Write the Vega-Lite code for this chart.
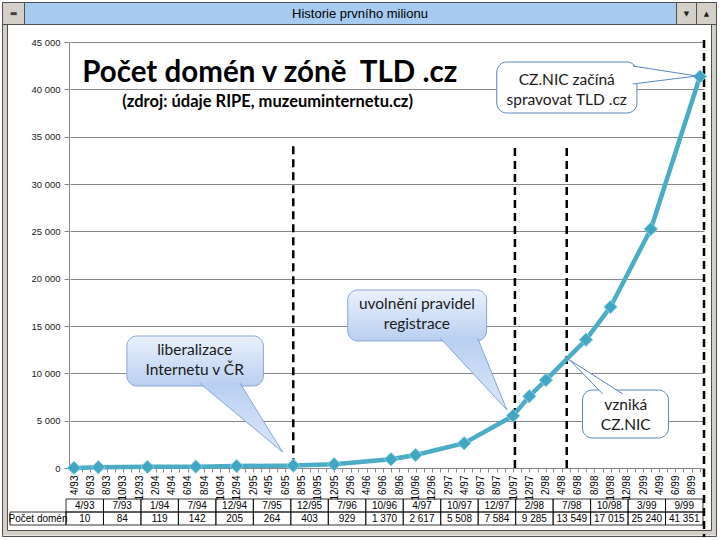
{
  "$schema": "https://vega.github.io/schema/vega-lite/v6.json",
  "width": 720,
  "height": 540,
  "autosize": {"type": "none"},
  "padding": 0,
  "background": "white",
  "config": {
    "view": {"stroke": null, "fill": "white"},
    "font": "Liberation Sans",
    "locale": {"number": {"decimal": ",", "thousands": " ", "grouping": [3], "currency": ["", ""]}}
  },
  "datasets": {
    "domains": [
      {"date": "1993-04-01", "label": "4/93", "count": 10},
      {"date": "1993-07-01", "label": "7/93", "count": 84},
      {"date": "1994-01-01", "label": "1/94", "count": 119},
      {"date": "1994-07-01", "label": "7/94", "count": 142},
      {"date": "1994-12-01", "label": "12/94", "count": 205},
      {"date": "1995-07-01", "label": "7/95", "count": 264},
      {"date": "1995-12-01", "label": "12/95", "count": 403},
      {"date": "1996-07-01", "label": "7/96", "count": 929},
      {"date": "1996-10-01", "label": "10/96", "count": 1370},
      {"date": "1997-04-01", "label": "4/97", "count": 2617},
      {"date": "1997-10-01", "label": "10/97", "count": 5508},
      {"date": "1997-12-01", "label": "12/97", "count": 7584},
      {"date": "1998-02-01", "label": "2/98", "count": 9285},
      {"date": "1998-07-01", "label": "7/98", "count": 13549},
      {"date": "1998-10-01", "label": "10/98", "count": 17015},
      {"date": "1999-03-01", "label": "3/99", "count": 25240},
      {"date": "1999-09-01", "label": "9/99", "count": 41351}
    ],
    "events": [
      {"date": "1995-07-01", "top": 34000, "bottom": 0},
      {"date": "1997-10-08", "top": 33800, "bottom": 0},
      {"date": "1998-04-20", "top": 33800, "bottom": 0},
      {"date": "1999-09-16", "top": 45200, "bottom": -7300}
    ],
    "blueBoxes": [
      {"id": "lib", "x1": "1993-10-16", "x2": "1995-03-11", "y1": 13944, "y2": 8662},
      {"id": "reg", "x1": "1996-01-21", "x2": "1997-06-24", "y1": 18803, "y2": 13416}
    ],
    "whiteBoxes": [
      {"id": "tld", "x1": "1997-08-01", "x2": "1999-01-08", "y1": 42887, "y2": 37500},
      {"id": "nic", "x1": "1998-06-18", "x2": "1999-05-06", "y1": 8239, "y2": 3169}
    ],
    "blueTails": [
      {"id": "lib", "o": 1, "date": "1994-07-15", "v": 8979},
      {"id": "lib", "o": 2, "date": "1995-05-22", "v": 1690},
      {"id": "lib", "o": 3, "date": "1994-12-13", "v": 8979},
      {"id": "reg", "o": 1, "date": "1997-01-01", "v": 13732},
      {"id": "reg", "o": 2, "date": "1997-09-08", "v": 6127},
      {"id": "reg", "o": 3, "date": "1997-05-21", "v": 13732}
    ],
    "whiteTails": [
      {"id": "tld", "o": 1, "date": "1998-12-23", "v": 42464},
      {"id": "tld", "o": 2, "date": "1999-08-20", "v": 41409},
      {"id": "tld", "o": 3, "date": "1998-12-23", "v": 40563},
      {"id": "nic", "o": 1, "date": "1998-09-02", "v": 7817},
      {"id": "nic", "o": 2, "date": "1998-05-01", "v": 11408},
      {"id": "nic", "o": 3, "date": "1998-11-16", "v": 7817}
    ],
    "calloutTexts": [
      {"date": "1994-06-27", "v": 11356, "lines": ["liberalizace", "Internetu  v ČR"]},
      {"date": "1996-10-06", "v": 16215, "lines": ["uvolnění pravidel", "registrace"]},
      {"date": "1998-04-20", "v": 39982, "lines": ["CZ.NIC začíná", "spravovat  TLD .cz"]},
      {"date": "1998-11-27", "v": 5599, "lines": ["vzniká", "CZ.NIC"]}
    ],
    "titleText": [{"date": "1995-04-04", "v": 41725, "t": "Počet domén v zóně\u00a0 TLD .cz"}],
    "subtitleText": [{"date": "1995-03-27", "v": 38662, "t": "(zdroj: údaje RIPE, muzeuminternetu.cz)"}]
  },
  "resolve": {"scale": {"x": "independent", "y": "independent"}},
  "layer": [
    {
      "data": {"values": [{"w": "frame"}]},
      "mark": {"type": "rect", "fill": null, "stroke": "#d4d0c8", "strokeWidth": 5},
      "encoding": {
        "x": {"field": "w", "type": "nominal", "scale": {"type": "band", "range": [5, 713.5], "paddingInner": 0, "paddingOuter": 0}, "axis": null},
        "y": {"field": "w", "type": "nominal", "scale": {"type": "band", "range": [5, 533], "paddingInner": 0, "paddingOuter": 0}, "axis": null}
      }
    },
    {
      "data": {"values": [{"w": "outer"}]},
      "mark": {"type": "rect", "fill": null, "stroke": "#505050", "strokeWidth": 1},
      "encoding": {
        "x": {"field": "w", "type": "nominal", "scale": {"type": "band", "range": [2.5, 716.5], "paddingInner": 0, "paddingOuter": 0}, "axis": null},
        "y": {"field": "w", "type": "nominal", "scale": {"type": "band", "range": [2.5, 536.5], "paddingInner": 0, "paddingOuter": 0}, "axis": null}
      }
    },
    {
      "data": {"values": [{"w": "inner"}]},
      "mark": {"type": "rect", "fill": null, "stroke": "#505050", "strokeWidth": 1},
      "encoding": {
        "x": {"field": "w", "type": "nominal", "scale": {"type": "band", "range": [7.5, 711.5], "paddingInner": 0, "paddingOuter": 0}, "axis": null},
        "y": {"field": "w", "type": "nominal", "scale": {"type": "band", "range": [24.5, 530.5], "paddingInner": 0, "paddingOuter": 0}, "axis": null}
      }
    },
    {
      "data": {"values": [{"t": "Historie prvního milionu"}]},
      "layer": [
        {
          "mark": {"type": "rect", "fill": "#a6caf0", "stroke": "#505050", "strokeWidth": 1},
          "encoding": {
            "x": {"field": "t", "type": "nominal", "scale": {"type": "band", "range": [24.5, 676.5], "paddingInner": 0, "paddingOuter": 0}, "axis": null},
            "y": {"field": "t", "type": "nominal", "scale": {"type": "band", "range": [2.5, 24.5], "paddingInner": 0, "paddingOuter": 0}, "axis": null}
          }
        },
        {
          "mark": {"type": "text", "fontSize": 13, "font": "Liberation Sans", "color": "black", "baseline": "middle"},
          "encoding": {
            "y": {"field": "t", "type": "nominal"},
            "text": {"field": "t"}
          }
        }
      ]
    },
    {
      "data": {"values": [{"b": "menu", "s": "▬"}]},
      "layer": [
        {
          "mark": {"type": "rect", "fill": "#d4d0c8", "stroke": "#505050", "strokeWidth": 1},
          "encoding": {
            "x": {"field": "b", "type": "nominal", "scale": {"type": "band", "range": [2.5, 24.5], "paddingInner": 0, "paddingOuter": 0}, "axis": null},
            "y": {"field": "b", "type": "nominal", "scale": {"type": "band", "range": [2.5, 24.5], "paddingInner": 0, "paddingOuter": 0}, "axis": null}
          }
        },
        {
          "mark": {"type": "text", "fontSize": 8, "font": "DejaVu Sans", "color": "#404040", "baseline": "middle"},
          "encoding": {
            "x": {"field": "b", "type": "nominal"},
            "y": {"field": "b", "type": "nominal"},
            "text": {"field": "s"}
          }
        }
      ]
    },
    {
      "data": {"values": [{"b": "down", "s": "▼"}, {"b": "up", "s": "▲"}]},
      "layer": [
        {
          "mark": {"type": "rect", "fill": "#d4d0c8", "stroke": "#505050", "strokeWidth": 1},
          "encoding": {
            "x": {"field": "b", "type": "nominal", "sort": null, "scale": {"type": "band", "range": [676.5, 716.5], "paddingInner": 0, "paddingOuter": 0}, "axis": null},
            "y": {"datum": "bar", "type": "nominal", "scale": {"type": "band", "range": [2.5, 24.5], "paddingInner": 0, "paddingOuter": 0}, "axis": null}
          }
        },
        {
          "mark": {"type": "text", "fontSize": 7, "font": "DejaVu Sans", "color": "#202020", "baseline": "middle"},
          "encoding": {
            "x": {"field": "b", "type": "nominal", "sort": null},
            "y": {"datum": "bar", "type": "nominal"},
            "text": {"field": "s"}
          }
        }
      ]
    },
    {
      "layer": [
        {
          "data": {"name": "events"},
          "mark": {"type": "rule", "color": "black", "strokeWidth": 2.5, "strokeDash": [8, 5]},
          "encoding": {
            "x": {
              "field": "date", "type": "temporal",
              "scale": {
                "type": "utc",
                "domain": [{"year": 1993, "month": 3, "date": 17, "utc": true}, {"year": 1999, "month": 9, "date": 16, "utc": true}],
                "range": [70, 704]
              },
              "axis": {"orient": "bottom", "offset": -72, "title": null, "grid": false, "tickCount": {"interval": "month", "step": 1}, "labelExpr": "utcmonth(datum.value) % 2 == 1 ? utcFormat(datum.value, '%-m/%y') : ''", "labelAngle": -90, "labelFontSize": 10, "labelColor": "black", "labelFont": "Liberation Sans", "labelOverlap": false, "labelFlush": false, "labelPadding": 3, "domainColor": "#868686", "tickColor": "#868686", "tickSize": 4}
            },
            "y": {
              "field": "top", "type": "quantitative",
              "scale": {"domain": [0, 45000], "range": [468, 42], "zero": false, "nice": false},
              "axis": {"orient": "left", "offset": -69, "title": null, "values": [0, 5000, 10000, 15000, 20000, 25000, 30000, 35000, 40000, 45000], "format": ",d", "grid": true, "gridColor": "#868686", "domainColor": "#868686", "tickColor": "#868686", "tickSize": 5, "labelFontSize": 9.5, "labelColor": "#202020", "labelFont": "Liberation Sans", "labelPadding": 4}
            },
            "y2": {"field": "bottom"}
          }
        },
        {
          "data": {"name": "domains"},
          "mark": {"type": "line", "color": "#4bacc6", "strokeWidth": 4.5},
          "encoding": {
            "x": {"field": "date", "type": "temporal", "axis": {"orient": "bottom", "offset": -72, "title": null, "grid": false, "tickCount": {"interval": "month", "step": 1}, "labelExpr": "utcmonth(datum.value) % 2 == 1 ? utcFormat(datum.value, '%-m/%y') : ''", "labelAngle": -90, "labelFontSize": 10, "labelColor": "black", "labelFont": "Liberation Sans", "labelOverlap": false, "labelFlush": false, "labelPadding": 3, "domainColor": "#868686", "tickColor": "#868686", "tickSize": 4}},
            "y": {"field": "count", "type": "quantitative", "axis": {"orient": "left", "offset": -69, "title": null, "values": [0, 5000, 10000, 15000, 20000, 25000, 30000, 35000, 40000, 45000], "format": ",d", "grid": true, "gridColor": "#868686", "domainColor": "#868686", "tickColor": "#868686", "tickSize": 5, "labelFontSize": 9.5, "labelColor": "#202020", "labelFont": "Liberation Sans", "labelPadding": 4}}
          }
        },
        {
          "data": {"name": "domains"},
          "mark": {"type": "point", "shape": "diamond", "filled": true, "size": 180, "fill": "#40a6c2", "stroke": "#8ad3e6", "strokeWidth": 1, "opacity": 1},
          "encoding": {
            "x": {"field": "date", "type": "temporal", "axis": {"orient": "bottom", "offset": -72, "title": null, "grid": false, "tickCount": {"interval": "month", "step": 1}, "labelExpr": "utcmonth(datum.value) % 2 == 1 ? utcFormat(datum.value, '%-m/%y') : ''", "labelAngle": -90, "labelFontSize": 10, "labelColor": "black", "labelFont": "Liberation Sans", "labelOverlap": false, "labelFlush": false, "labelPadding": 3, "domainColor": "#868686", "tickColor": "#868686", "tickSize": 4}},
            "y": {"field": "count", "type": "quantitative", "axis": {"orient": "left", "offset": -69, "title": null, "values": [0, 5000, 10000, 15000, 20000, 25000, 30000, 35000, 40000, 45000], "format": ",d", "grid": true, "gridColor": "#868686", "domainColor": "#868686", "tickColor": "#868686", "tickSize": 5, "labelFontSize": 9.5, "labelColor": "#202020", "labelFont": "Liberation Sans", "labelPadding": 4}}
          }
        },
        {
          "data": {"name": "blueBoxes"},
          "mark": {"type": "rect", "cornerRadius": 10, "fill": "#8a8a8a", "opacity": 0.35, "xOffset": 2, "yOffset": 3},
          "encoding": {
            "x": {"field": "x1", "type": "temporal", "axis": {"orient": "bottom", "offset": -72, "title": null, "grid": false, "tickCount": {"interval": "month", "step": 1}, "labelExpr": "utcmonth(datum.value) % 2 == 1 ? utcFormat(datum.value, '%-m/%y') : ''", "labelAngle": -90, "labelFontSize": 10, "labelColor": "black", "labelFont": "Liberation Sans", "labelOverlap": false, "labelFlush": false, "labelPadding": 3, "domainColor": "#868686", "tickColor": "#868686", "tickSize": 4}},
            "x2": {"field": "x2"},
            "y": {"field": "y1", "type": "quantitative", "axis": {"orient": "left", "offset": -69, "title": null, "values": [0, 5000, 10000, 15000, 20000, 25000, 30000, 35000, 40000, 45000], "format": ",d", "grid": true, "gridColor": "#868686", "domainColor": "#868686", "tickColor": "#868686", "tickSize": 5, "labelFontSize": 9.5, "labelColor": "#202020", "labelFont": "Liberation Sans", "labelPadding": 4}},
            "y2": {"field": "y2"}
          }
        },
        {
          "data": {"name": "blueBoxes"},
          "mark": {
            "type": "rect", "cornerRadius": 10, "stroke": "#86a7d6", "strokeWidth": 1,
            "fill": {"gradient": "linear", "x1": 0, "y1": 0, "x2": 0, "y2": 1, "stops": [{"offset": 0, "color": "#eaf1fb"}, {"offset": 1, "color": "#b9cff1"}]}
          },
          "encoding": {
            "x": {"field": "x1", "type": "temporal", "axis": {"orient": "bottom", "offset": -72, "title": null, "grid": false, "tickCount": {"interval": "month", "step": 1}, "labelExpr": "utcmonth(datum.value) % 2 == 1 ? utcFormat(datum.value, '%-m/%y') : ''", "labelAngle": -90, "labelFontSize": 10, "labelColor": "black", "labelFont": "Liberation Sans", "labelOverlap": false, "labelFlush": false, "labelPadding": 3, "domainColor": "#868686", "tickColor": "#868686", "tickSize": 4}},
            "x2": {"field": "x2"},
            "y": {"field": "y1", "type": "quantitative", "axis": {"orient": "left", "offset": -69, "title": null, "values": [0, 5000, 10000, 15000, 20000, 25000, 30000, 35000, 40000, 45000], "format": ",d", "grid": true, "gridColor": "#868686", "domainColor": "#868686", "tickColor": "#868686", "tickSize": 5, "labelFontSize": 9.5, "labelColor": "#202020", "labelFont": "Liberation Sans", "labelPadding": 4}},
            "y2": {"field": "y2"}
          }
        },
        {
          "data": {"name": "blueTails"},
          "mark": {
            "type": "line", "stroke": "#86a7d6", "strokeWidth": 1,
            "fill": {"gradient": "linear", "x1": 0, "y1": 0, "x2": 0, "y2": 1, "stops": [{"offset": 0, "color": "#b9cff1"}, {"offset": 1, "color": "#dbe7f8"}]}
          },
          "encoding": {
            "x": {"field": "date", "type": "temporal", "axis": {"orient": "bottom", "offset": -72, "title": null, "grid": false, "tickCount": {"interval": "month", "step": 1}, "labelExpr": "utcmonth(datum.value) % 2 == 1 ? utcFormat(datum.value, '%-m/%y') : ''", "labelAngle": -90, "labelFontSize": 10, "labelColor": "black", "labelFont": "Liberation Sans", "labelOverlap": false, "labelFlush": false, "labelPadding": 3, "domainColor": "#868686", "tickColor": "#868686", "tickSize": 4}},
            "y": {"field": "v", "type": "quantitative", "axis": {"orient": "left", "offset": -69, "title": null, "values": [0, 5000, 10000, 15000, 20000, 25000, 30000, 35000, 40000, 45000], "format": ",d", "grid": true, "gridColor": "#868686", "domainColor": "#868686", "tickColor": "#868686", "tickSize": 5, "labelFontSize": 9.5, "labelColor": "#202020", "labelFont": "Liberation Sans", "labelPadding": 4}},
            "detail": {"field": "id"},
            "order": {"field": "o"}
          }
        },
        {
          "data": {"name": "whiteBoxes"},
          "mark": {"type": "rect", "cornerRadius": 10, "fill": "#8a8a8a", "opacity": 0.35, "xOffset": 2, "yOffset": 3},
          "encoding": {
            "x": {"field": "x1", "type": "temporal", "axis": {"orient": "bottom", "offset": -72, "title": null, "grid": false, "tickCount": {"interval": "month", "step": 1}, "labelExpr": "utcmonth(datum.value) % 2 == 1 ? utcFormat(datum.value, '%-m/%y') : ''", "labelAngle": -90, "labelFontSize": 10, "labelColor": "black", "labelFont": "Liberation Sans", "labelOverlap": false, "labelFlush": false, "labelPadding": 3, "domainColor": "#868686", "tickColor": "#868686", "tickSize": 4}},
            "x2": {"field": "x2"},
            "y": {"field": "y1", "type": "quantitative", "axis": {"orient": "left", "offset": -69, "title": null, "values": [0, 5000, 10000, 15000, 20000, 25000, 30000, 35000, 40000, 45000], "format": ",d", "grid": true, "gridColor": "#868686", "domainColor": "#868686", "tickColor": "#868686", "tickSize": 5, "labelFontSize": 9.5, "labelColor": "#202020", "labelFont": "Liberation Sans", "labelPadding": 4}},
            "y2": {"field": "y2"}
          }
        },
        {
          "data": {"name": "whiteBoxes"},
          "mark": {"type": "rect", "cornerRadius": 10, "stroke": "#5b85c2", "strokeWidth": 1, "fill": "white"},
          "encoding": {
            "x": {"field": "x1", "type": "temporal", "axis": {"orient": "bottom", "offset": -72, "title": null, "grid": false, "tickCount": {"interval": "month", "step": 1}, "labelExpr": "utcmonth(datum.value) % 2 == 1 ? utcFormat(datum.value, '%-m/%y') : ''", "labelAngle": -90, "labelFontSize": 10, "labelColor": "black", "labelFont": "Liberation Sans", "labelOverlap": false, "labelFlush": false, "labelPadding": 3, "domainColor": "#868686", "tickColor": "#868686", "tickSize": 4}},
            "x2": {"field": "x2"},
            "y": {"field": "y1", "type": "quantitative", "axis": {"orient": "left", "offset": -69, "title": null, "values": [0, 5000, 10000, 15000, 20000, 25000, 30000, 35000, 40000, 45000], "format": ",d", "grid": true, "gridColor": "#868686", "domainColor": "#868686", "tickColor": "#868686", "tickSize": 5, "labelFontSize": 9.5, "labelColor": "#202020", "labelFont": "Liberation Sans", "labelPadding": 4}},
            "y2": {"field": "y2"}
          }
        },
        {
          "data": {"name": "whiteTails"},
          "mark": {"type": "line", "stroke": "#5b85c2", "strokeWidth": 1, "fill": "white"},
          "encoding": {
            "x": {"field": "date", "type": "temporal", "axis": {"orient": "bottom", "offset": -72, "title": null, "grid": false, "tickCount": {"interval": "month", "step": 1}, "labelExpr": "utcmonth(datum.value) % 2 == 1 ? utcFormat(datum.value, '%-m/%y') : ''", "labelAngle": -90, "labelFontSize": 10, "labelColor": "black", "labelFont": "Liberation Sans", "labelOverlap": false, "labelFlush": false, "labelPadding": 3, "domainColor": "#868686", "tickColor": "#868686", "tickSize": 4}},
            "y": {"field": "v", "type": "quantitative", "axis": {"orient": "left", "offset": -69, "title": null, "values": [0, 5000, 10000, 15000, 20000, 25000, 30000, 35000, 40000, 45000], "format": ",d", "grid": true, "gridColor": "#868686", "domainColor": "#868686", "tickColor": "#868686", "tickSize": 5, "labelFontSize": 9.5, "labelColor": "#202020", "labelFont": "Liberation Sans", "labelPadding": 4}},
            "detail": {"field": "id"},
            "order": {"field": "o"}
          }
        },
        {
          "data": {"name": "calloutTexts"},
          "mark": {"type": "text", "font": "Lato", "fontSize": 15.5, "lineHeight": 20, "dy": -10, "color": "#1a1a1a", "baseline": "middle"},
          "encoding": {
            "x": {"field": "date", "type": "temporal", "axis": {"orient": "bottom", "offset": -72, "title": null, "grid": false, "tickCount": {"interval": "month", "step": 1}, "labelExpr": "utcmonth(datum.value) % 2 == 1 ? utcFormat(datum.value, '%-m/%y') : ''", "labelAngle": -90, "labelFontSize": 10, "labelColor": "black", "labelFont": "Liberation Sans", "labelOverlap": false, "labelFlush": false, "labelPadding": 3, "domainColor": "#868686", "tickColor": "#868686", "tickSize": 4}},
            "y": {"field": "v", "type": "quantitative", "axis": {"orient": "left", "offset": -69, "title": null, "values": [0, 5000, 10000, 15000, 20000, 25000, 30000, 35000, 40000, 45000], "format": ",d", "grid": true, "gridColor": "#868686", "domainColor": "#868686", "tickColor": "#868686", "tickSize": 5, "labelFontSize": 9.5, "labelColor": "#202020", "labelFont": "Liberation Sans", "labelPadding": 4}},
            "text": {"field": "lines"}
          }
        },
        {
          "data": {"name": "titleText"},
          "mark": {"type": "text", "font": "Lato", "fontSize": 29.5, "fontWeight": "bold", "color": "black", "baseline": "middle"},
          "encoding": {
            "x": {"field": "date", "type": "temporal", "axis": {"orient": "bottom", "offset": -72, "title": null, "grid": false, "tickCount": {"interval": "month", "step": 1}, "labelExpr": "utcmonth(datum.value) % 2 == 1 ? utcFormat(datum.value, '%-m/%y') : ''", "labelAngle": -90, "labelFontSize": 10, "labelColor": "black", "labelFont": "Liberation Sans", "labelOverlap": false, "labelFlush": false, "labelPadding": 3, "domainColor": "#868686", "tickColor": "#868686", "tickSize": 4}},
            "y": {"field": "v", "type": "quantitative", "axis": {"orient": "left", "offset": -69, "title": null, "values": [0, 5000, 10000, 15000, 20000, 25000, 30000, 35000, 40000, 45000], "format": ",d", "grid": true, "gridColor": "#868686", "domainColor": "#868686", "tickColor": "#868686", "tickSize": 5, "labelFontSize": 9.5, "labelColor": "#202020", "labelFont": "Liberation Sans", "labelPadding": 4}},
            "text": {"field": "t"}
          }
        },
        {
          "data": {"name": "subtitleText"},
          "mark": {"type": "text", "font": "Lato", "fontSize": 16.5, "fontWeight": "bold", "color": "black", "baseline": "middle"},
          "encoding": {
            "x": {"field": "date", "type": "temporal", "axis": {"orient": "bottom", "offset": -72, "title": null, "grid": false, "tickCount": {"interval": "month", "step": 1}, "labelExpr": "utcmonth(datum.value) % 2 == 1 ? utcFormat(datum.value, '%-m/%y') : ''", "labelAngle": -90, "labelFontSize": 10, "labelColor": "black", "labelFont": "Liberation Sans", "labelOverlap": false, "labelFlush": false, "labelPadding": 3, "domainColor": "#868686", "tickColor": "#868686", "tickSize": 4}},
            "y": {"field": "v", "type": "quantitative", "axis": {"orient": "left", "offset": -69, "title": null, "values": [0, 5000, 10000, 15000, 20000, 25000, 30000, 35000, 40000, 45000], "format": ",d", "grid": true, "gridColor": "#868686", "domainColor": "#868686", "tickColor": "#868686", "tickSize": 5, "labelFontSize": 9.5, "labelColor": "#202020", "labelFont": "Liberation Sans", "labelPadding": 4}},
            "text": {"field": "t"}
          }
        }
      ]
    },
    {
      "data": {"name": "domains"},
      "layer": [
        {
          "mark": {"type": "rect", "fill": null, "stroke": "black", "strokeWidth": 0.8},
          "encoding": {
            "x": {"field": "label", "type": "nominal", "sort": null,
                  "scale": {"type": "band", "range": [66, 703], "paddingInner": 0, "paddingOuter": 0}, "axis": null},
            "y": {"datum": "h", "type": "nominal",
                  "scale": {"type": "band", "domain": ["h", "v"], "range": [499, 525], "paddingInner": 0, "paddingOuter": 0}, "axis": null}
          }
        },
        {
          "mark": {"type": "rect", "fill": null, "stroke": "black", "strokeWidth": 0.8},
          "encoding": {
            "x": {"field": "label", "type": "nominal", "sort": null},
            "y": {"datum": "v", "type": "nominal"}
          }
        },
        {
          "mark": {"type": "text", "fontSize": 10, "font": "Liberation Sans", "color": "black", "baseline": "middle"},
          "encoding": {
            "x": {"field": "label", "type": "nominal", "sort": null},
            "y": {"datum": "h", "type": "nominal"},
            "text": {"field": "label"}
          }
        },
        {
          "mark": {"type": "text", "fontSize": 10, "font": "Liberation Sans", "color": "black", "baseline": "middle"},
          "encoding": {
            "x": {"field": "label", "type": "nominal", "sort": null},
            "y": {"datum": "v", "type": "nominal"},
            "text": {"field": "count", "type": "quantitative", "format": ",d"}
          }
        }
      ]
    },
    {
      "data": {"values": [{"row": "Počet domén"}]},
      "layer": [
        {
          "mark": {"type": "rect", "fill": null, "stroke": "black", "strokeWidth": 0.8},
          "encoding": {
            "x": {"field": "row", "type": "nominal", "scale": {"type": "band", "range": [10, 66], "paddingInner": 0, "paddingOuter": 0}, "axis": null},
            "y": {"datum": "v", "type": "nominal", "scale": {"type": "band", "domain": ["h", "v"], "range": [499, 525], "paddingInner": 0, "paddingOuter": 0}, "axis": null}
          }
        },
        {
          "mark": {"type": "text", "fontSize": 10, "font": "Liberation Sans", "color": "black", "baseline": "middle"},
          "encoding": {
            "x": {"field": "row", "type": "nominal"},
            "y": {"datum": "v", "type": "nominal"},
            "text": {"field": "row"}
          }
        }
      ]
    }
  ]
}
